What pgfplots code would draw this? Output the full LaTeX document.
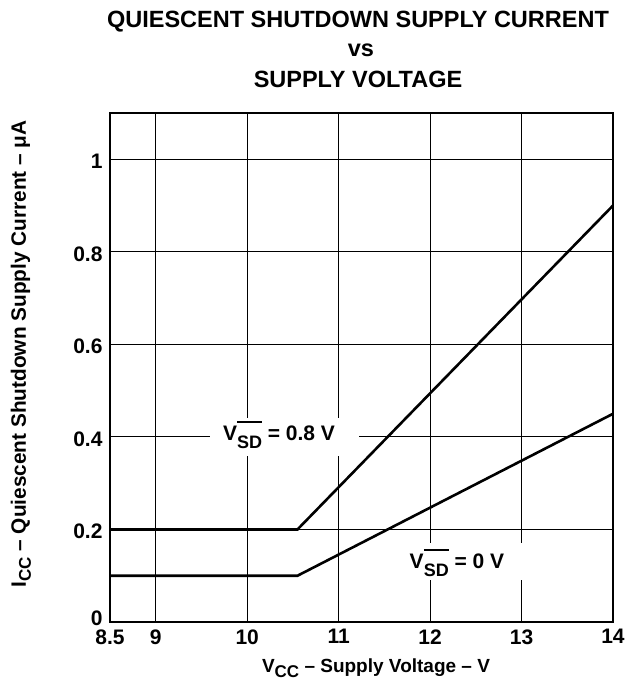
\documentclass[border=0pt]{standalone}
\usepackage{fontspec}
\setmainfont{Liberation Sans}
\usepackage{pgfplots}
\pgfplotsset{compat=1.18}
\newcommand{\SD}{\raisebox{-8bp}{\fontsize{18bp}{18bp}\selectfont\setbox0\hbox{SD}\rlap{\rule[25bp]{\wd0}{2bp}}\box0}}
\newcommand{\CC}{\raisebox{-5bp}{\fontsize{17bp}{17bp}\selectfont CC}}
\begin{document}
\begin{tikzpicture}
\begin{axis}[
  scale only axis, width=503bp, height=509bp,
  xmin=8.5, xmax=14, ymin=0, ymax=1.1,
  xtick={8.5,9,10,11,12,13,14}, xticklabels={8.5,9,10,11,12,13,14},
  ytick={0,0.2,0.4,0.6,0.8,1}, yticklabels={\raisebox{12bp}{0},0.2,0.4,0.6,0.8,1},
  grid=major, major grid style={black, line width=0.9bp},
  major tick length=0pt,
  axis line style={line width=2.4bp},
  tick label style={font=\fontsize{21bp}{23bp}\selectfont\bfseries},
  xticklabel style={yshift=-4bp},
  yticklabel style={xshift=-4bp, yshift=-2bp},
  clip=false,
]
\fill[white] (axis cs:9.593,0.3585) rectangle (axis cs:11.223,0.4406);
\fill[white] (axis cs:11.56,0.0907) rectangle (axis cs:13.07,0.1706);
\addplot[black, line width=2.6bp] coordinates {(8.5,0.2) (10.55,0.2) (14,0.9)};
\addplot[black, line width=2.6bp] coordinates {(8.5,0.1) (10.55,0.1) (14,0.45)};
\node[anchor=base, inner sep=0pt, font=\fontsize{21bp}{21bp}\selectfont\bfseries] at (axis cs:10.348,0.393) {V\SD{} = 0.8 V};
\node[anchor=base, inner sep=0pt, font=\fontsize{21bp}{21bp}\selectfont\bfseries] at (axis cs:12.294,0.1166) {V\SD{} = 0 V};
\end{axis}
\begin{scope}[shift={(current axis.south west)}]
  \node[anchor=base, inner sep=0pt, font=\fontsize{23.5bp}{23.5bp}\selectfont\bfseries] at (248bp,594bp) {QUIESCENT SHUTDOWN SUPPLY CURRENT};
  \node[anchor=base, inner sep=0pt, font=\fontsize{23.5bp}{23.5bp}\selectfont\bfseries] at (251bp,565bp) {vs};
  \node[anchor=base, inner sep=0pt, font=\fontsize{23.5bp}{23.5bp}\selectfont\bfseries] at (248bp,534bp) {SUPPLY VOLTAGE};
  \node[anchor=base, inner sep=0pt, font=\fontsize{19bp}{19bp}\selectfont\bfseries] at (266bp,-50bp) {V\CC{} -- Supply Voltage -- V};
  \node[anchor=base, rotate=90, inner sep=0pt, font=\fontsize{20.8bp}{20.8bp}\selectfont\bfseries] at (-84bp,268bp) {I\CC{} -- Quiescent Shutdown Supply Current -- μA};
  \pgfresetboundingbox
  \path[use as bounding box] (-110bp,-61bp) rectangle (527bp,622bp);
\end{scope}
\end{tikzpicture}
\end{document}
